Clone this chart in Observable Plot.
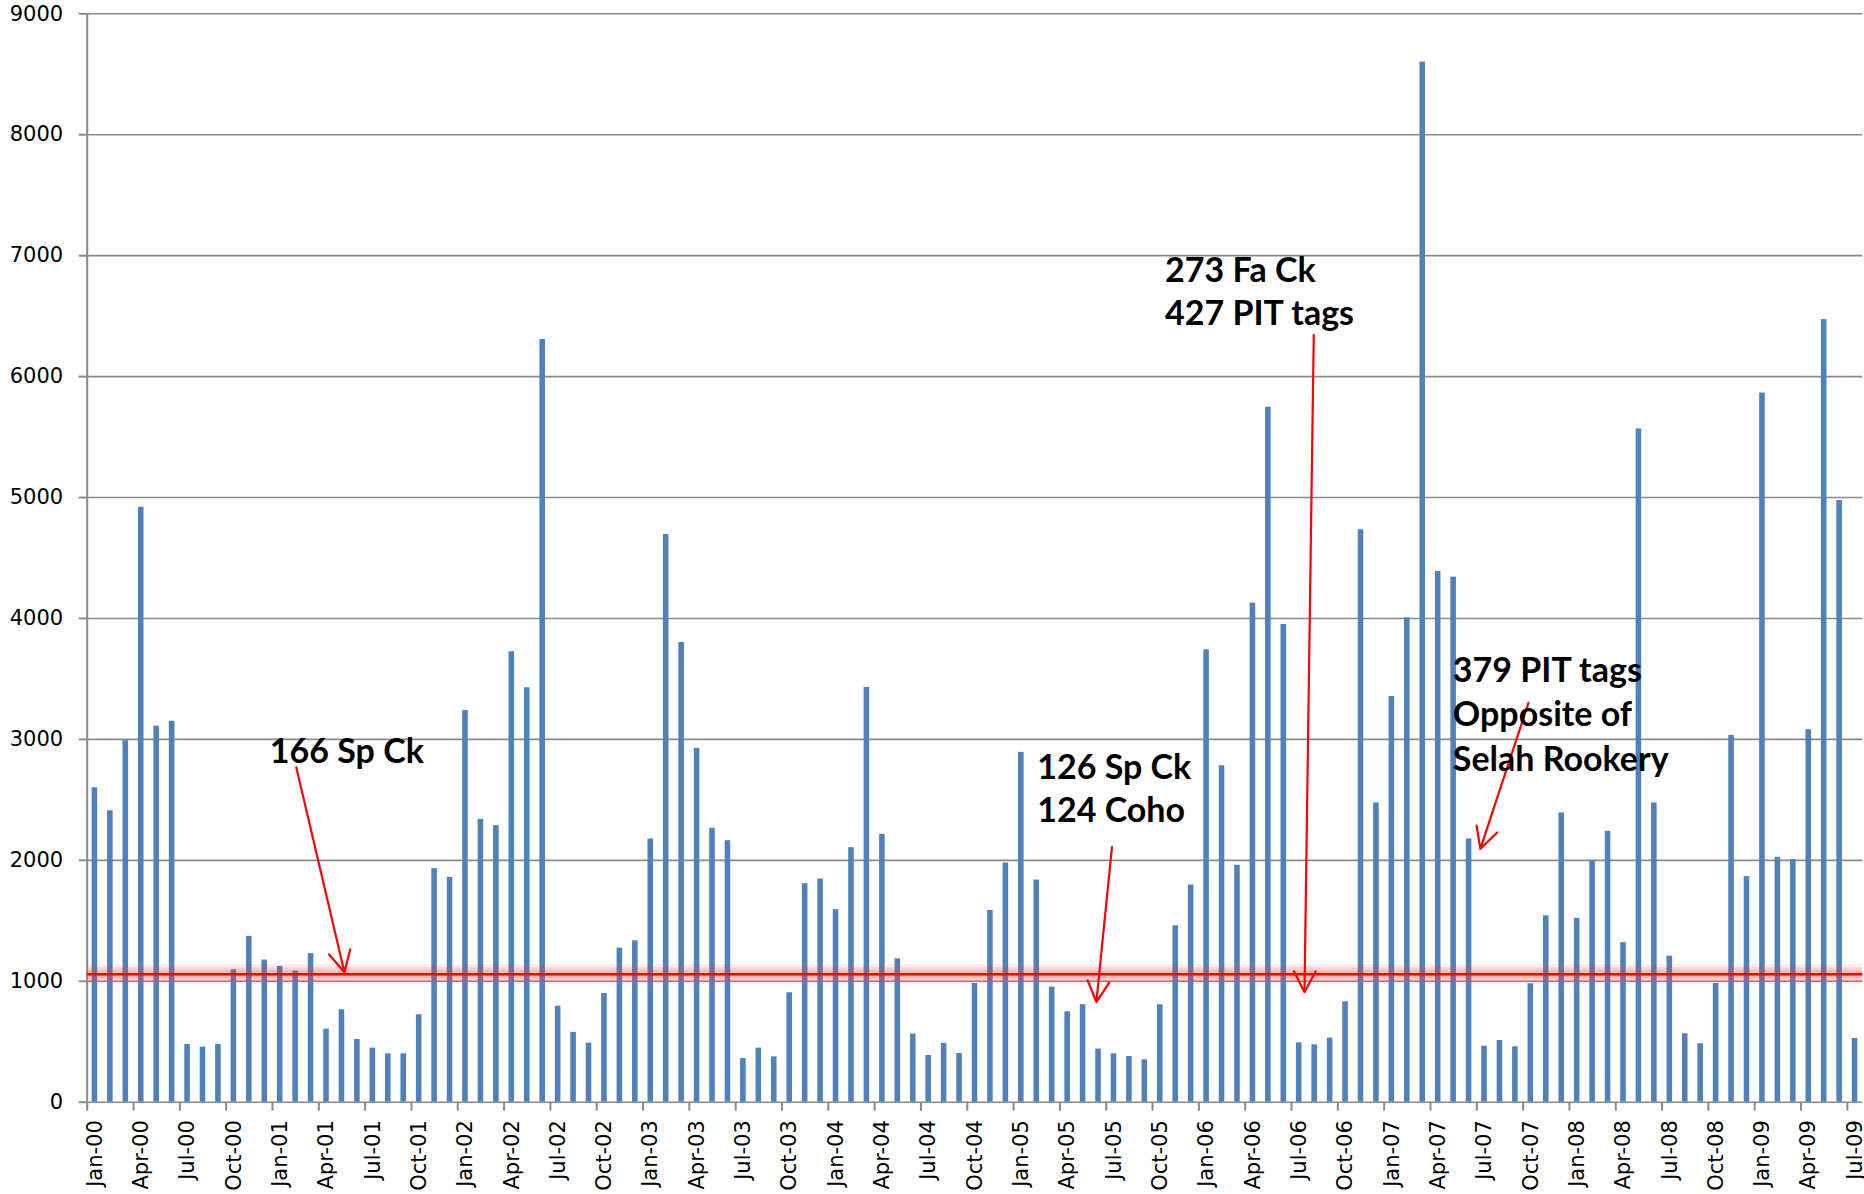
<!DOCTYPE html>
<html>
<head>
<meta charset="utf-8">
<script src="https://cdn.jsdelivr.net/npm/d3@7"></script>
<script src="https://cdn.jsdelivr.net/npm/@observablehq/plot@0.6"></script>
<style>
  html, body { margin: 0; padding: 0; background: #fff; overflow: hidden; }
  #chart svg { display: block; }
</style>
</head>
<body>
<div id="chart"></div>
<script>
// Monthly counts, Jan-00 .. Jul-09 (one value per month)
const counts = [
  2600, 2410, 2990, 4920, 3110, 3150, 477, 455, 477, 1095, 1371, 1175,
  1123, 1084, 1228, 604, 764, 519, 447, 400, 400, 723, 1931, 1859,
  3240, 2339, 2287, 3725, 3427, 6307, 794, 577, 488, 899, 1274, 1335,
  2177, 4694, 3802, 2926, 2265, 2163, 361, 447, 375, 905, 1807, 1846,
  1592, 2105, 3430, 2215, 1186, 563, 386, 486, 403, 982, 1586, 1978,
  2893, 1837, 952, 748, 806, 439, 400, 378, 350, 806, 1459, 1796,
  3741, 2782, 1959, 4127, 5747, 3950, 491, 474, 530, 830, 4733, 2474,
  3355, 4005, 8601, 4388, 4342, 2177, 463, 510, 458, 979, 1542, 2392,
  1520, 1994, 2240, 1319, 5567, 2474, 1208, 566, 483, 982, 3033, 1865,
  5864, 2025, 2006, 3080, 6471, 4975, 527
];

// Quarterly tick labels (every 3rd month starting at index 0)
const tickLabels = [
  "Jan-00","Apr-00","Jul-00","Oct-00",
  "Jan-01","Apr-01","Jul-01","Oct-01",
  "Jan-02","Apr-02","Jul-02","Oct-02",
  "Jan-03","Apr-03","Jul-03","Oct-03",
  "Jan-04","Apr-04","Jul-04","Oct-04",
  "Jan-05","Apr-05","Jul-05","Oct-05",
  "Jan-06","Apr-06","Jul-06","Oct-06",
  "Jan-07","Apr-07","Jul-07","Oct-07",
  "Jan-08","Apr-08","Jul-08","Oct-08",
  "Jan-09","Apr-09","Jul-09"
];

const yTicks = [0, 1000, 2000, 3000, 4000, 5000, 6000, 7000, 8000, 9000];

// Reference level (red line with glow)
const referenceLevel = [1057];

// Annotation text lines: month-index position (left edge), baseline value
const noteLines = [
  {x: 11.33, y: 2807, text: "166 Sp Ck"},
  {x: 61.03, y: 2674, text: "126 Sp Ck"},
  {x: 61.03, y: 2315, text: "124 Coho"},
  {x: 69.31, y: 6781, text: "273 Fa Ck"},
  {x: 69.31, y: 6423, text: "427 PIT tags"},
  {x: 87.95, y: 3473, text: "379 PIT tags"},
  {x: 87.95, y: 3107, text: "Opposite of"},
  {x: 87.95, y: 2737, text: "Selah Rookery"}
];

// Annotation arrows (month index / value)
const noteArrows = [
  {x1: 13.04, y1: 2770, x2: 16.16, y2: 1075},
  {x1: 65.87, y1: 2109, x2: 64.86, y2: 827},
  {x1: 78.94, y1: 6346, x2: 78.34, y2: 910},
  {x1: 92.85, y1: 3303, x2: 89.73, y2: 2095}
];

const data = counts.map((v, i) => ({i, v}));
const tickIdx = tickLabels.map((_, k) => k * 3);
const boundaries = tickLabels.map((_, k) => k * 3 - 0.5);

const W = 1864, H = 1194;
const grid = "#8a8a8a";

const chart = Plot.plot({
  width: W,
  height: H,
  marginLeft: 86.7,
  marginRight: 1.7,
  marginTop: 13.3,
  marginBottom: 92.3,
  style: {fontFamily: "DejaVu Sans", fontSize: "21px", color: "#000", background: "#fff"},
  x: {type: "linear", domain: [-0.5, counts.length - 0.5]},
  y: {domain: [0, 9000]},
  marks: [
    Plot.ruleY(yTicks, {stroke: grid, strokeWidth: 1.6}),
    Plot.ruleX([-0.5], {y1: 0, y2: 9000, stroke: grid, strokeWidth: 2}),
    Plot.axisY({ticks: yTicks, tickFormat: d3.format("d"), tickSize: 8, tickPadding: 16,
      stroke: grid, strokeWidth: 2, fontSize: 21, fill: "#000", label: null}),
    Plot.axisX({ticks: boundaries, tickFormat: () => "", tickSize: 9, stroke: grid,
      strokeWidth: 2, label: null}),
    Plot.axisX({ticks: tickIdx, tickFormat: (d, k) => tickLabels[k], tickSize: 0,
      tickPadding: 18, tickRotate: -90, fontSize: 21, fill: "#000", label: null}),
    Plot.rectY(data, {x1: d => d.i - 0.18, x2: d => d.i + 0.18, y: "v", fill: "#4f81bd"}),
    Plot.ruleY(referenceLevel, {stroke: "#ff3b3b", strokeWidth: 20, strokeOpacity: 0.10}),
    Plot.ruleY(referenceLevel, {stroke: "#ff3b3b", strokeWidth: 14, strokeOpacity: 0.14}),
    Plot.ruleY(referenceLevel, {stroke: "#ff3b3b", strokeWidth: 8, strokeOpacity: 0.18}),
    Plot.ruleY(referenceLevel, {stroke: "#ff0000", strokeWidth: 2.5}),
    Plot.arrow(noteArrows, {x1: "x1", y1: "y1", x2: "x2", y2: "y2", stroke: "#ff0000",
      strokeWidth: 2.2, headLength: 16, headAngle: 55}),
    Plot.text(noteLines, {x: "x", y: "y", text: "text", textAnchor: "start", lineAnchor: "bottom",
      fontFamily: "Lato", fontWeight: "bold", fontSize: 34, fill: "#000"})
  ]
});

document.getElementById("chart").appendChild(chart);
</script>
</body>
</html>
